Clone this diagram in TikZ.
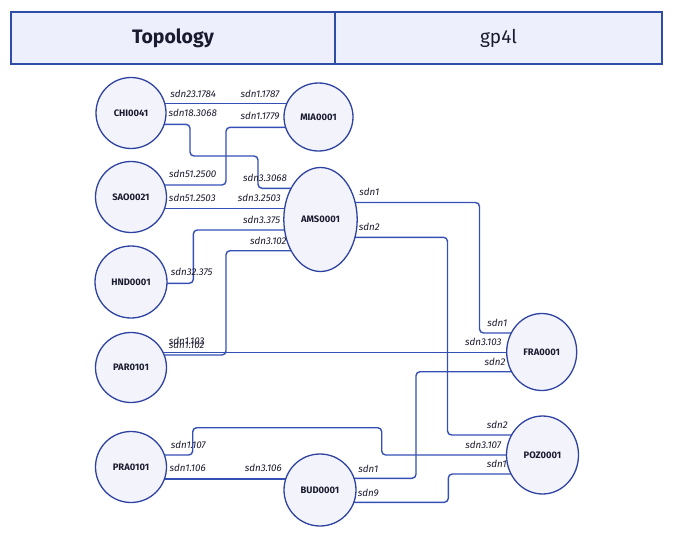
\documentclass[tikz,border=0pt]{standalone}
\usepackage{fontspec}
\setmainfont{Fira Sans}
\usetikzlibrary{backgrounds,shapes.geometric}
\definecolor{linec}{HTML}{3550B5}
\definecolor{nodefill}{HTML}{F3F4FB}
\definecolor{nodeborder}{HTML}{2E42A2}
\definecolor{headfill}{HTML}{EDF0FC}
\definecolor{headborder}{HTML}{2E4DA8}
\definecolor{txt}{HTML}{1B1B30}
\tikzset{
  site/.style={ellipse, draw=nodeborder, fill=nodefill, line width=1.3pt, inner sep=0pt,
    text=txt, font=\bfseries\fontsize{9.4}{11}\selectfont},
  link/.style={draw=linec, line width=1.4pt, rounded corners=4pt},
  lbl/.style={inner sep=0pt, text=txt, font=\itshape\fontsize{9.8}{11}\selectfont},
  headcell/.style={rectangle, draw=headborder, fill=headfill, line width=1.3pt,
    text=txt, minimum height=52pt, inner sep=0pt}
}
\begin{document}
\begin{tikzpicture}[x=1pt,y=-1pt]
\useasboundingbox (0,0) rectangle (677,546);
% header
\node[headcell, minimum width=324pt, font=\bfseries\fontsize{19.5}{22}\selectfont] (h1) at (173,38) {Topology};
\node[headcell, minimum width=327pt, font=\fontsize{19}{22}\selectfont] (h2) at (498.5,38) {gp4l};
% sites
\node[site, minimum width=70pt, minimum height=71pt] (chi) at (131,113) {CHI0041};
\node[site, minimum width=69pt, minimum height=68pt] (mia) at (318.5,117) {MIA0001};
\node[site, minimum width=71pt, minimum height=71pt] (sao) at (131,197) {SAO0021};
\node[site, minimum width=73.4pt, minimum height=104pt] (ams) at (320.5,219.5) {AMS0001};
\node[site, minimum width=72pt, minimum height=72pt] (hnd) at (131,282) {HND0001};
\node[site, minimum width=71pt, minimum height=70pt] (par) at (131,367.5) {PAR0101};
\node[site, minimum width=70pt, minimum height=77pt] (fra) at (541.7,352) {FRA0001};
\node[site, minimum width=71pt, minimum height=71pt] (pra) at (131,467) {PRA0101};
\node[site, minimum width=72pt, minimum height=78pt] (poz) at (542.5,455) {POZ0001};
\node[site, minimum width=72pt, minimum height=72pt] (bud) at (320,490) {BUD0001};
% links
\begin{pgfonlayer}{background}
\draw[link] (chi.center |- 0,103.3) -- (mia.center |- 0,103.3);
\draw[link] (chi.center |- 0,124.3) -- (190,124.3) -- (190,156) -- (258,156) -- (258,188.3) -- (ams.center |- 0,188.3);
\draw[link] (mia.center |- 0,127.3) -- (226,127.3) -- (226,185) -- (sao.center |- 0,185);
\draw[link] (sao.center |- 0,208.7) -- (ams.center |- 0,208.7);
\draw[link] (ams.center |- 0,230) -- (193.3,230) -- (193.3,283.3) -- (hnd.center |- 0,283.3);
\draw[link] (ams.center |- 0,250.7) -- (226,250.7) -- (226,355) -- (par.center |- 0,355);
\draw[link] (par.center |- 0,352.3) -- (fra.center |- 0,352.3);
\draw[link] (ams.center |- 0,202.5) -- (479.5,202.5) -- (479.5,333) -- (fra.center |- 0,333);
\draw[link] (ams.center |- 0,237.3) -- (447.5,237.3) -- (447.5,435) -- (poz.center |- 0,435);
\draw[link] (fra.center |- 0,371.7) -- (416,371.7) -- (416,478.3) -- (bud.center |- 0,478.3);
\draw[link] (pra.center |- 0,455) -- (192.7,455) -- (192.7,427.7) -- (381.7,427.7) -- (381.7,455) -- (poz.center |- 0,455);
\draw[link] (pra.center |- 0,479) -- (bud.center |- 0,479);
\draw[link] (bud.center |- 0,502.3) -- (448.3,502.3) -- (448.3,474) -- (poz.center |- 0,474);
\end{pgfonlayer}
% labels
\node[lbl] (t1) at (193.3,94) {sdn23.1784};
\node[lbl] (t2) at (260,94) {sdn1.1787};
\node[lbl] (t3) at (192.7,113.3) {sdn18.3068};
\node[lbl] (t4) at (260,115.7) {sdn1.1779};
\node[lbl] (t5) at (192.7,174.3) {sdn51.2500};
\node[lbl] (t6) at (265,177.7) {sdn3.3068};
\node[lbl] (t7) at (192.3,198.3) {sdn51.2503};
\node[lbl] (t8) at (259.3,198.3) {sdn3.2503};
\node[lbl] (t9) at (261.7,220) {sdn3.375};
\node[lbl] (t10) at (268.3,241) {sdn3.102};
\node[lbl] (t11) at (191.7,272.3) {sdn32.375};
\node[lbl] (t12) at (186.7,341) {sdn1.103};
\node[lbl] (t13) at (186.7,345) {sdn1.102};
\node[lbl] (t14) at (369.3,192.3) {sdn1};
\node[lbl] (t15) at (369.3,226.7) {sdn2};
\node[lbl] (t16) at (497.3,322.7) {sdn1};
\node[lbl] (t17) at (483.3,341.7) {sdn3.103};
\node[lbl] (t18) at (495,361.7) {sdn2};
\node[lbl] (t19) at (497.3,425) {sdn2};
\node[lbl] (t20) at (483.3,445) {sdn3.107};
\node[lbl] (t21) at (496.7,464) {sdn1};
\node[lbl] (t22) at (188.3,445) {sdn1.107};
\node[lbl] (t23) at (187.7,468.3) {sdn1.106};
\node[lbl] (t24) at (263.3,468.3) {sdn3.106};
\node[lbl] (t25) at (368.3,469) {sdn1};
\node[lbl] (t26) at (368.3,492.7) {sdn9};
\end{tikzpicture}
\end{document}
